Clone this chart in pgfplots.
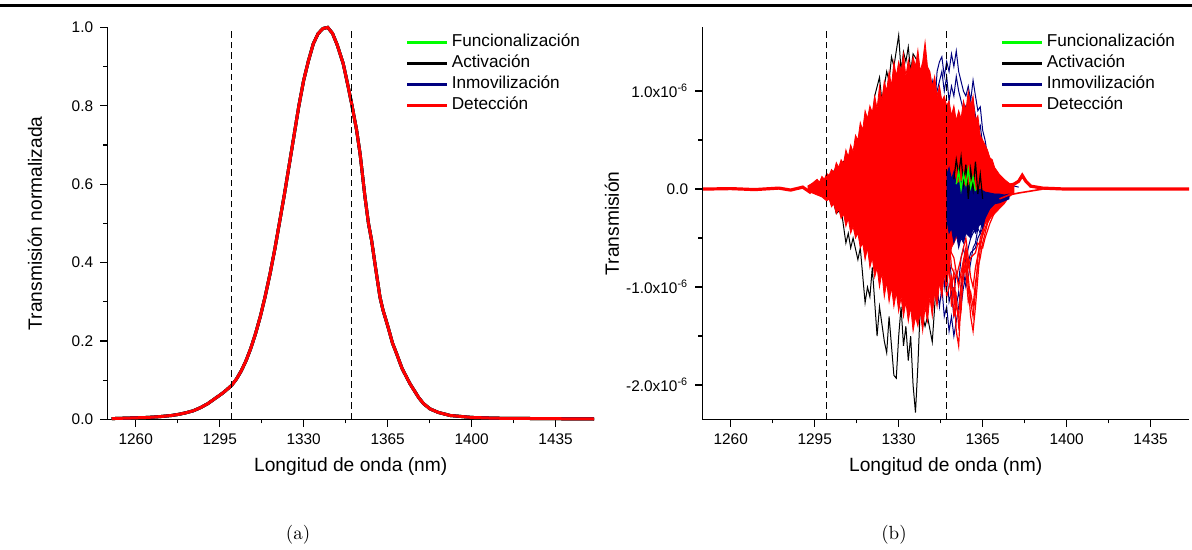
\documentclass[border=0pt]{standalone}
\usepackage{pgfplots}
\pgfplotsset{compat=1.18}
\usepackage{pgfplotstable}
\usepackage{fontspec}
\newfontfamily\arial{Liberation Sans}
\definecolor{funcgreen}{RGB}{0,255,0}
\definecolor{inmblue}{RGB}{0,0,128}
\definecolor{detred}{RGB}{255,0,0}

\pgfplotstableread{
x y
1250 0.002
1255 0.003
1260 0.004
1265 0.005
1270 0.007
1275 0.010
1278 0.013
1281 0.017
1284 0.022
1287 0.030
1290 0.040
1293 0.053
1296 0.066
1298 0.076
1300 0.087
1302 0.103
1304 0.124
1306 0.150
1308 0.182
1310 0.220
1312 0.264
1314 0.315
1316 0.372
1318 0.435
1320 0.505
1322 0.575
1324 0.650
1326 0.725
1328 0.800
1330 0.865
1332 0.915
1334 0.958
1336 0.984
1338 0.997
1340 1.000
1342 0.985
1344 0.955
1346.5 0.907
1348.5 0.850
1350 0.805
1352 0.740
1353.5 0.678
1355.5 0.570
1357 0.500
1358.3 0.457
1360 0.385
1361.8 0.312
1363 0.280
1365.2 0.235
1367 0.195
1368.7 0.168
1371 0.130
1374.3 0.091
1378 0.055
1380 0.040
1382.6 0.027
1386 0.018
1391 0.010
1400 0.005
1410 0.003
1430 0.002
1451 0.001
}\transnorm

\pgfplotsset{
  myaxis/.style={
    scale only axis, width=243.3pt, height=196pt,
    xmin=1248.2, xmax=1451,
    axis x line*=bottom, axis y line*=left,
    axis line style={line width=0.6pt, -},
    tick style={line width=0.6pt, black},
    tick align=outside,
    major tick length=3.6pt, minor tick length=2pt,
    xtick={1260,1295,1330,1365,1400,1435}, minor x tick num=1,
    minor y tick num=1,
    /pgf/number format/assume math mode=true,
    /pgf/number format/1000 sep={},
    ticklabel style={font=\arial\fontsize{7.7}{9}\selectfont},
    xlabel={Longitud de onda (nm)},
    xlabel style={font=\arial\fontsize{9.6}{11}\selectfont, at={(axis description cs:0.5,-0.121)}, anchor=center},
    legend cell align=left,
    legend image code/.code={\draw[#1, line width=1.5pt] (0pt,0pt) -- (20pt,0pt);},
    legend style={at={(rel axis cs:0.612,0.984)}, anchor=north west, draw=none, fill=none,
      inner sep=0pt, font=\arial\fontsize{8.6}{10}\selectfont, row sep=2.5pt,
      nodes={inner sep=0pt, text height=6.3pt, text depth=1.7pt},
      /tikz/column sep=1.6pt},
  },
  vline/.style={black, line width=0.7pt, dash pattern=on 3.3pt off 2pt, forget plot},
}

\begin{document}
\begin{tikzpicture}
\useasboundingbox (0,0) rectangle (596pt,275pt);
\draw[line width=1.7pt] (0,272.2pt) -- (596pt,272.2pt);

% ---------------- (a) ----------------
\begin{axis}[myaxis,
  at={(53.7pt,65.3pt)}, anchor=south west,
  ymin=0, ymax=1,
  ytick={0,0.2,0.4,0.6,0.8,1},
  yticklabel style={/pgf/number format/fixed, /pgf/number format/fixed zerofill, /pgf/number format/precision=1},
  ylabel={Transmisión normalizada},
  ylabel style={font=\arial\fontsize{9.6}{11}\selectfont, at={(axis description cs:-0.149,0.5)}, rotate=0, anchor=center},
  clip=false,
]
\addplot[funcgreen, line width=1.5pt] table {\transnorm};
\addlegendentry{Funcionalización}
\addplot[black, line width=1.5pt] table {\transnorm};
\addlegendentry{Activación}
\addplot[inmblue, line width=1.5pt] table {\transnorm};
\addlegendentry{Inmovilización}
\addplot[detred, line width=1.5pt] table {\transnorm};
\addlegendentry{Detección}
\addplot[vline] coordinates {(1300,0) (1300,1)};
\addplot[vline] coordinates {(1350,0) (1350,1)};
\end{axis}

% ---------------- (b) ----------------
\begin{axis}[myaxis,
  at={(351.2pt,65.3pt)}, anchor=south west,
  ymin=-2.35, ymax=1.65,
  ytick={-2,-1,0,1},
  yticklabels={-2.0x10\textsuperscript{-6}, -1.0x10\textsuperscript{-6}, 0.0, 1.0x10\textsuperscript{-6}},
  ylabel={Transmisión},
  ylabel style={font=\arial\fontsize{9.6}{11}\selectfont, at={(axis description cs:-0.186,0.5)}, rotate=0, anchor=center},
]
\addlegendimage{funcgreen}
\addlegendentry{Funcionalización}
\addlegendimage{black}
\addlegendentry{Activación}
\addlegendimage{inmblue}
\addlegendentry{Inmovilización}
\addlegendimage{detred}
\addlegendentry{Detección}

% Activacion: lower and upper extremes
\addplot[black, line width=0.5pt, forget plot] coordinates {
(1296,0) (1298,-0.05) (1300,-0.1) (1301.3,-0.11) (1302,-0.05) (1304,-0.25) (1306,-0.2) (1308,-0.55) (1309,-0.45) (1310,-0.6) (1311,-0.5) (1313,-0.72) (1314,-0.6) (1316,-1.16) (1317,-1.0) (1318,-1.1) (1319,-0.8) (1321,-1.5) (1322,-1.2) (1324,-1.55) (1325,-1.67) (1326,-1.3) (1328,-1.9) (1329,-1.93) (1330,-1.5) (1331,-1.2) (1332,-1.6) (1333,-1.4) (1334,-1.75) (1335,-1.5) (1336,-2.0) (1337,-2.28) (1338,-1.8) (1339,-1.2) (1341,-1.4) (1342,-1.3) (1344,-1.56) (1345,-1.2) (1346,-0.8) (1348,-0.5) (1350,-0.2) (1352,0)
};
\addplot[black, line width=0.5pt, forget plot] coordinates {
(1298,0) (1300,0.08) (1302,0.15) (1304,0.22) (1305,0.18) (1306,0.26) (1308,0.3) (1310,0.37) (1311,0.3) (1312,0.48) (1314,0.53) (1315,0.45) (1316,0.65) (1318,0.74) (1319,0.6) (1320,0.95) (1322,1.14) (1323,0.9) (1325,1.2) (1326,1.1) (1327,1.35) (1328,1.25) (1330,1.57) (1331,1.2) (1332,1.4) (1333,1.3) (1334,1.45) (1335,1.2) (1336,1.38) (1338,1.3) (1339,1.0) (1340,1.1) (1342,0.8) (1344,0.5) (1346,0.2) (1348,0)
};
% Inmovilizacion
\addplot[inmblue, line width=0.5pt, forget plot] coordinates {
(1340,0.5) (1342,0.9) (1344,1.1) (1345,0.8) (1346,1.2) (1347,1.3) (1348,1.35) (1349,1.15) (1350,1.3) (1351,1.2) (1352,1.38) (1353,1.25) (1354,1.41) (1355,1.2) (1356,1.1) (1357,1.0) (1358,0.95) (1359,1.05) (1360,0.9) (1361,1.11) (1362,0.95) (1363,0.8) (1364,0.84) (1365,0.6) (1366,0.5) (1367,0.35) (1368,0.3) (1370,0.18) (1372,0.1) (1375,0.05) (1380,0.02)
};
\addplot[inmblue, line width=0.5pt, forget plot] coordinates {
(1344,0.7) (1346,1.0) (1347,1.1) (1348,1.2) (1349,1.0) (1350,1.15) (1351,0.9) (1352,1.05) (1353,0.95) (1354,1.15) (1355,1.0) (1356,0.9) (1357,0.8) (1358,0.85) (1359,0.7) (1360,0.8) (1361,0.9) (1362,0.75) (1363,0.6) (1364,0.65) (1365,0.45) (1366,0.35) (1368,0.22) (1370,0.12) (1373,0.05) (1378,0.02)
};
\addplot[inmblue, line width=0.5pt, forget plot] coordinates {
(1344,-0.6) (1346,-1.0) (1347,-1.2) (1348,-1.0) (1349,-1.3) (1350,-1.2) (1351,-1.45) (1352,-1.3) (1353,-1.5) (1354,-1.35) (1355,-1.2) (1356,-1.0) (1357,-0.85) (1358,-1.0) (1359,-0.9) (1360,-0.75) (1361,-0.6) (1362,-0.55) (1363,-0.4) (1364,-0.45) (1365,-0.3) (1367,-0.25) (1369,-0.15) (1372,-0.08) (1376,-0.02)
};
\addplot[inmblue, line width=0.5pt, forget plot] coordinates {
(1346,-0.6) (1348,-0.8) (1350,-0.95) (1351,-0.7) (1352,-0.9) (1353,-1.1) (1354,-0.85) (1355,-0.95) (1356,-0.7) (1357,-0.6) (1358,-0.75) (1359,-0.6) (1360,-0.5) (1362,-0.4) (1364,-0.35) (1366,-0.2) (1369,-0.12) (1373,-0.05)
};
\addplot[inmblue, line width=0.5pt, forget plot] coordinates {
(1347,-0.4) (1349,-1.0) (1350,-0.8) (1351,-1.15) (1352,-1.05) (1353,-1.3) (1354,-1.2) (1355,-1.05) (1356,-1.2) (1357,-1.0) (1358,-0.9) (1359,-0.75) (1360,-0.65) (1362,-0.6) (1363,-0.5) (1365,-0.4) (1368,-0.2) (1372,-0.06)
};
% Deteccion: dense core
\addplot[detred, fill=detred, draw=detred, line width=0.4pt, forget plot] coordinates {
(1292,0.03) (1294,0.06) (1296,0.1) (1297,0.07) (1298,0.13) (1299,0.1) (1300,0.16) (1301,0.14) (1302,0.2) (1303,0.17) (1304,0.27) (1305,0.22) (1306,0.3) (1307,0.26) (1308,0.4) (1309,0.33) (1310,0.45) (1311,0.38) (1312,0.55) (1313,0.5) (1314,0.68) (1315,0.6) (1316,0.8) (1317,0.72) (1318,0.85) (1319,0.78) (1320,0.95) (1321,0.82) (1322,1.05) (1323,0.9) (1324,1.1) (1325,1.0) (1326,1.2) (1327,1.05) (1328,1.3) (1329,1.15) (1330,1.3) (1331,1.2) (1332,1.38) (1333,1.15) (1334,1.32) (1335,1.2) (1336,1.35) (1337,1.25) (1338,1.42) (1339,1.2) (1340,1.3) (1341,1.5) (1342,1.25) (1343,1.2) (1344,1.05) (1345,1.15) (1346,0.95) (1347,1.05) (1348,0.9) (1349,0.95) (1350,0.85) (1351,0.9) (1352,0.75) (1353,0.85) (1354,0.7) (1355,0.8) (1356,0.72) (1357,0.9) (1358,0.8) (1359,1.0) (1360,0.85) (1361,0.95) (1362,0.7) (1363,0.75) (1364,0.55) (1365,0.5) (1366,0.45) (1367,0.4) (1368,0.32) (1369,0.3) (1370,0.22) (1372,0.15) (1374,0.1) (1376,0.06) (1378,0.04)
(1378,-0.04) (1376,-0.08) (1374,-0.15) (1372,-0.2) (1370,-0.25) (1368,-0.3) (1366,-0.35) (1364,-0.35) (1362,-0.4) (1360,-0.4) (1358,-0.45) (1356,-0.45) (1354,-0.5) (1352,-0.6) (1351,-0.8)
(1350,-1.0) (1349,-0.85) (1348,-1.1) (1347,-0.95) (1346,-1.2) (1345,-1.05) (1344,-1.3) (1343,-1.1) (1342,-1.35) (1341,-1.2) (1340,-1.45) (1339,-1.25) (1338,-1.4) (1337,-1.3) (1336,-1.45) (1335,-1.2) (1334,-1.35) (1333,-1.15) (1332,-1.3) (1331,-1.1) (1330,-1.25) (1329,-1.05) (1328,-1.2) (1327,-1.0) (1326,-1.15) (1325,-0.95) (1324,-1.1) (1323,-0.85) (1322,-1.0) (1321,-0.8) (1320,-0.9) (1319,-0.7) (1318,-0.8) (1317,-0.6) (1316,-0.72) (1315,-0.55) (1314,-0.6) (1313,-0.45) (1312,-0.5) (1311,-0.38) (1310,-0.45) (1309,-0.3) (1308,-0.38) (1307,-0.25) (1306,-0.3) (1305,-0.2) (1304,-0.25) (1303,-0.15) (1302,-0.18) (1301,-0.1) (1300,-0.12) (1298,-0.08) (1296,-0.06) (1294,-0.04) (1292,-0.02)
};
% Deteccion: lower lobes beyond 1350
\addplot[detred, line width=0.6pt, forget plot] coordinates {
(1348,-0.3) (1350,-0.9) (1351,-0.7) (1352,-1.2) (1353,-1.0) (1354,-1.45) (1355,-1.6) (1356,-1.1) (1357,-0.9) (1358,-0.75) (1359,-1.0) (1360,-1.3) (1361,-1.45) (1362,-1.2) (1363,-0.9) (1364,-0.6) (1365,-0.45) (1366,-0.3) (1368,-0.2) (1370,-0.1) (1372,-0.05) (1375,0)
};
\addplot[detred, line width=0.6pt, forget plot] coordinates {
(1348,-0.5) (1350,-1.1) (1352,-0.9) (1353,-1.3) (1354,-1.1) (1355,-1.4) (1356,-1.25) (1357,-0.8) (1358,-0.65) (1359,-0.9) (1360,-1.15) (1361,-1.3) (1362,-1.05) (1363,-0.7) (1364,-0.5) (1366,-0.35) (1368,-0.25) (1370,-0.15) (1374,-0.05)
};
\addplot[detred, line width=0.6pt, forget plot] coordinates {
(1349,-0.6) (1351,-0.5) (1352,-0.8) (1354,-0.9) (1356,-0.7) (1358,-0.5) (1360,-0.9) (1361,-1.0) (1362,-0.8) (1364,-0.55) (1366,-0.4) (1369,-0.2) (1372,-0.1)
};
\addplot[detred, line width=0.6pt, forget plot] coordinates {
(1350,-0.7) (1352,-1.0) (1353,-0.85) (1354,-1.2) (1355,-1.3) (1356,-0.95) (1357,-0.75) (1358,-0.85) (1359,-1.15) (1360,-1.05) (1361,-1.2) (1362,-0.95) (1363,-0.8) (1364,-0.7) (1365,-0.55) (1367,-0.35) (1370,-0.2) (1373,-0.08)
};
\addplot[detred, line width=0.6pt, forget plot] coordinates {
(1351,-0.6) (1353,-0.7) (1355,-1.0) (1356,-0.85) (1358,-0.6) (1359,-0.8) (1360,-0.7) (1362,-0.65) (1363,-0.55) (1365,-0.6) (1366,-0.5) (1368,-0.35) (1371,-0.18)
};
% Inmovilizacion: dense band near zero
\addplot[inmblue, fill=inmblue, draw=inmblue, line width=0.4pt, forget plot] coordinates {
(1350,0.15) (1351,0.22) (1352,0.1) (1353,0.18) (1354,0.05) (1356,0.08) (1358,0.02) (1360,0.05) (1362,-0.02) (1364,0.0) (1366,-0.03) (1368,-0.04) (1370,-0.05) (1372,-0.05) (1374,-0.06) (1376,-0.05)
(1376,-0.1) (1374,-0.12) (1372,-0.14) (1370,-0.15) (1368,-0.2) (1366,-0.3) (1365,-0.4) (1364,-0.35) (1362,-0.45) (1361,-0.4) (1360,-0.5) (1358,-0.45) (1357,-0.55) (1356,-0.5) (1355,-0.6) (1354,-0.45) (1353,-0.55) (1352,-0.4) (1351,-0.45) (1350,-0.3)
};
% Activacion: bits over the band
\addplot[black, line width=0.6pt, forget plot] coordinates {
(1353,0.1) (1354,0.3) (1355,0.15) (1356,0.33) (1357,0.05) (1358,0.25) (1359,-0.1) (1360,0.2) (1361,0.0) (1362,0.28) (1363,-0.05) (1364,0.15) (1365,-0.1)
};
% Funcionalizacion
\addplot[funcgreen, line width=0.7pt, forget plot] coordinates {
(1354,0.05) (1355,0.18) (1356,0.0) (1357,0.15) (1358,0.05) (1359,0.2) (1360,0.02) (1361,0.12) (1362,-0.02)
};
% baselines
\addplot[detred, line width=1.6pt, forget plot] coordinates {
(1248.5,0) (1260,0.005) (1270,-0.005) (1280,0.01) (1285,-0.01) (1290,0.02) (1293,-0.03) (1296,0.05)
};
\addplot[detred, line width=1.6pt, forget plot] coordinates {
(1372,0.05) (1375,0.03) (1378,0.05) (1380,0.08) (1381.5,0.14) (1383,0.08) (1385,0.03) (1390,0.01) (1400,0) (1451,0)
};
\addplot[detred, line width=0.8pt, forget plot] coordinates {
(1372,-0.1) (1376,-0.06) (1380,-0.04) (1385,-0.02) (1390,0)
};
\addplot[vline] coordinates {(1300,-2.35) (1300,1.65)};
\addplot[vline] coordinates {(1350,-2.35) (1350,1.65)};
\end{axis}

\node[font=\fontsize{9.5}{11}\selectfont] at (149pt,7.5pt) {(a)};
\node[font=\fontsize{9.5}{11}\selectfont] at (447pt,7.5pt) {(b)};
\end{tikzpicture}
\end{document}
